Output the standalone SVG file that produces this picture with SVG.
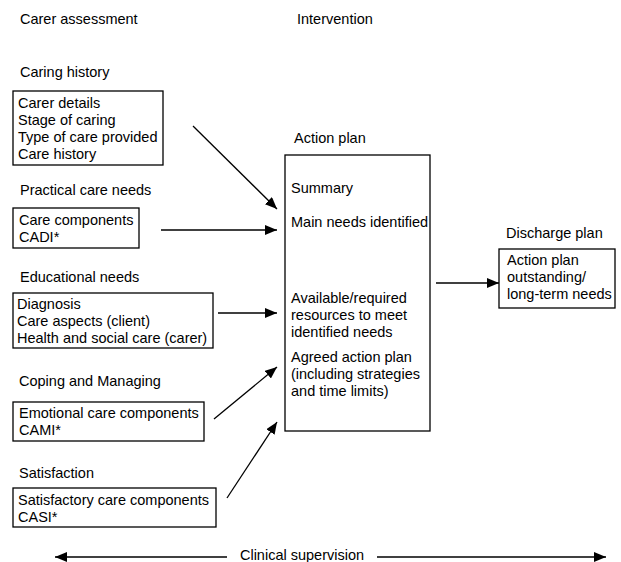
<svg xmlns="http://www.w3.org/2000/svg" width="621" height="562" viewBox="0 0 621 562">
<defs>
<marker id="ah" viewBox="0 0 12 10" refX="12" refY="5" markerWidth="12" markerHeight="10" markerUnits="userSpaceOnUse" orient="auto-start-reverse">
<path d="M0,0 L12,5 L0,10 Z" fill="#000"/>
</marker>
<style>
text{font-family:"Liberation Sans",Arial,sans-serif;font-size:14.5px;fill:#000}
.box{fill:#fff;stroke:#000;stroke-width:1.3}
.conn{stroke:#000;stroke-width:1.3;fill:none}
</style>
</defs>
<rect width="621" height="562" fill="#fff"/>
<g id="headers">
<text x="20" y="24">Carer assessment</text>
<text x="297" y="24">Intervention</text>
</g>
<g id="caring-history">
<text x="20" y="77">Caring history</text>
<rect class="box" x="13" y="91" width="150" height="74"/>
<text x="18" y="108">Carer details</text>
<text x="18" y="125">Stage of caring</text>
<text x="18" y="142">Type of care provided</text>
<text x="18" y="159">Care history</text>
</g>
<g id="practical-care">
<text x="20" y="195">Practical care needs</text>
<rect class="box" x="13" y="208" width="126" height="40"/>
<text x="19" y="225">Care components</text>
<text x="19" y="242">CADI*</text>
</g>
<g id="educational">
<text x="20" y="282">Educational needs</text>
<rect class="box" x="13" y="293" width="200" height="55"/>
<text x="17" y="309">Diagnosis</text>
<text x="17" y="326">Care aspects (client)</text>
<text x="17" y="343">Health and social care (carer)</text>
</g>
<g id="coping">
<text x="19" y="386">Coping and Managing</text>
<rect class="box" x="13" y="402" width="191" height="39"/>
<text x="19" y="418">Emotional care components</text>
<text x="19" y="435">CAMI*</text>
</g>
<g id="satisfaction">
<text x="19" y="478">Satisfaction</text>
<rect class="box" x="13" y="488" width="203" height="39"/>
<text x="18" y="505">Satisfactory care components</text>
<text x="18" y="522">CASI*</text>
</g>
<g id="action-plan">
<text x="294" y="143">Action plan</text>
<rect class="box" x="285" y="155" width="145" height="276"/>
<text x="291" y="193">Summary</text>
<text x="291" y="227">Main needs identified</text>
<text x="291" y="303">Available/required</text>
<text x="291" y="320">resources to meet</text>
<text x="291" y="337">identified needs</text>
<text x="291" y="362">Agreed action plan</text>
<text x="291" y="379">(including strategies</text>
<text x="291" y="396">and time limits)</text>
</g>
<g id="discharge-plan">
<text x="506" y="238">Discharge plan</text>
<rect class="box" x="499" y="249" width="116" height="59"/>
<text x="507" y="265">Action plan</text>
<text x="507" y="282">outstanding/</text>
<text x="507" y="299">long-term needs</text>
</g>
<g id="clinical-supervision">
<text x="302" y="560" text-anchor="middle">Clinical supervision</text>
</g>
<g id="connectors">
<line class="conn" x1="193" y1="126" x2="277" y2="209" marker-end="url(#ah)"/>
<line class="conn" x1="161" y1="230" x2="277" y2="230" marker-end="url(#ah)"/>
<line class="conn" x1="218" y1="313" x2="277" y2="313" marker-end="url(#ah)"/>
<line class="conn" x1="214" y1="419" x2="277" y2="367" marker-end="url(#ah)"/>
<line class="conn" x1="227" y1="498" x2="277" y2="422" marker-end="url(#ah)"/>
<line class="conn" x1="436" y1="283" x2="499" y2="283" marker-end="url(#ah)"/>
<line class="conn" x1="55" y1="557" x2="227" y2="557" marker-start="url(#ah)"/>
<line class="conn" x1="377" y1="557" x2="606" y2="557" marker-end="url(#ah)"/>
</g>
</svg>
